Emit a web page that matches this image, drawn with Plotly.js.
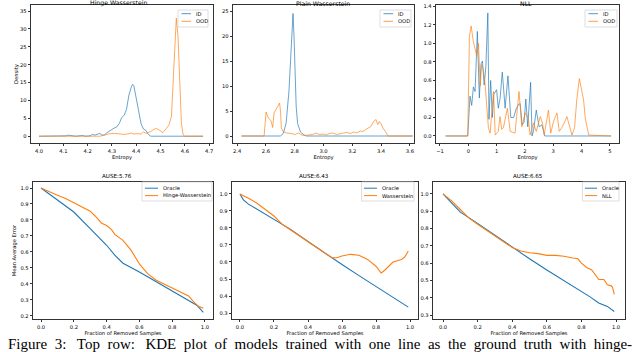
<!DOCTYPE html>
<html>
<head>
<meta charset="utf-8">
<script src="https://cdn.plot.ly/plotly-3.0.1.min.js"></script>
<style>
  html, body { margin: 0; padding: 0; background: white; }
  #chart { width: 640px; height: 352px; }
</style>
</head>
<body>
<div id="chart"></div>
<script>
// ---- top row: KDE of entropy, ID vs OOD ----
var hwIdX = [4.0, 4.08, 4.10, 4.11, 4.12, 4.13, 4.15, 4.18, 4.19, 4.21, 4.22, 4.23, 4.24, 4.25, 4.26, 4.27, 4.28, 4.29, 4.30, 4.31, 4.32, 4.33, 4.34, 4.35, 4.36, 4.37, 4.38, 4.385, 4.39, 4.40, 4.41, 4.42, 4.43, 4.44, 4.45, 4.46, 4.675];
var hwIdY = [0, 0, 0.2, 0.1, 0.3, 0.2, 0, 0.2, 0, 0.1, 0.5, 0.3, 0.6, 0.8, 0.3, 0.4, 1.0, 1.5, 2.0, 2.3, 2.6, 3.5, 5.2, 5.8, 7.5, 11.5, 13.8, 14.5, 14.2, 10.5, 6.5, 3.5, 2.0, 1.6, 0.5, 0, 0];
var hwOodX = [4.0, 4.25, 4.27, 4.29, 4.31, 4.33, 4.35, 4.37, 4.38, 4.39, 4.40, 4.42, 4.43, 4.44, 4.46, 4.47, 4.483, 4.497, 4.51, 4.524, 4.535, 4.545, 4.552, 4.559, 4.565, 4.572, 4.579, 4.586, 4.593, 4.60, 4.675];
var hwOodY = [0, 0, 0.3, 0.7, 0.8, 0.7, 0.5, 0.7, 0.9, 0.6, 0.7, 0.6, 1.2, 0.8, 1.3, 1.8, 2.2, 1.6, 1.0, 2.2, 3.2, 5.5, 14.8, 26, 33, 28, 15.7, 3.6, 0.4, 0, 0];

var pwIdX = [2.43, 2.70, 2.72, 2.74, 2.76, 2.77, 2.78, 2.788, 2.795, 2.80, 2.81, 2.82, 2.84, 2.86, 2.88, 3.449, 3.62];
var pwIdY = [0, 0, 0.5, 2.5, 9, 15, 21, 24.5, 20, 14, 6, 2.5, 0.8, 0.3, 0, 0, 0];
var pwOodX = [2.43, 2.587, 2.601, 2.616, 2.635, 2.647, 2.656, 2.671, 2.683, 2.695, 2.702, 2.707, 2.719, 2.743, 2.778, 2.80, 2.826, 2.85, 2.87, 2.922, 2.95, 2.97, 3.0, 3.018, 3.04, 3.066, 3.09, 3.114, 3.14, 3.162, 3.19, 3.21, 3.23, 3.257, 3.275, 3.293, 3.31, 3.329, 3.348, 3.365, 3.377, 3.389, 3.401, 3.413, 3.43, 3.449, 3.62];
var pwOodY = [0, 0, 4.8, 3.6, 3.1, 1.7, 4.6, 5.4, 6.2, 6.6, 4.6, 1.6, 0.9, 0.6, 0.5, 0.3, 0.6, 0.2, 0.1, 0.3, 0.6, 0.3, 0.4, 0.2, 0.5, 0.6, 0.3, 0.5, 0.6, 0.7, 0.5, 0.8, 0.6, 1.0, 0.9, 1.3, 1.6, 1.9, 2.9, 3.3, 2.3, 2.9, 2.4, 1.6, 0.9, 0, 0];

var nllIdX = [-0.8, -0.02, 0.06, 0.12, 0.18, 0.24, 0.32, 0.39, 0.45, 0.5, 0.56, 0.62, 0.69, 0.73, 0.79, 0.85, 0.9, 1.0, 1.06, 1.12, 1.2, 1.3, 1.4, 1.5, 1.6, 1.7, 1.77, 1.83, 1.9, 1.97, 2.03, 2.1, 2.2, 2.25, 2.3, 2.4, 2.5, 2.6, 2.7, 5.04];
var nllIdY = [0, 0, 0.43, 0.33, 0.53, 0.48, 1.13, 0.41, 0.78, 0.81, 0.55, 0.75, 1.33, 0.18, 0.6, 0.2, 0.45, 0.5, 0.3, 0.4, 0.69, 0.3, 0.65, 0.2, 0.2, 0.3, 0.34, 0.35, 0.12, 0.15, 0.4, 0.1, 0.58, 0, 0.05, 0.28, 0.1, 0.12, 0, 0];
var nllOodX = [-0.8, -0.02, 0.04, 0.1, 0.18, 0.24, 0.3, 0.36, 0.42, 0.47, 0.53, 0.59, 0.65, 0.71, 0.77, 0.83, 0.89, 0.95, 1.06, 1.12, 1.18, 1.24, 1.38, 1.48, 1.65, 1.79, 1.89, 2.01, 2.12, 2.18, 2.3, 2.4, 2.54, 2.62, 2.68, 2.83, 2.91, 3.01, 3.13, 3.21, 3.3, 3.4, 3.48, 3.56, 3.66, 3.75, 3.83, 3.92, 4.01, 4.07, 4.13, 4.19, 4.25, 5.04];
var nllOodY = [0, 0, 1.08, 1.19, 1.02, 0.93, 0.86, 1.0, 0.54, 0.77, 0.72, 0.57, 0.32, 0.09, 0.03, 0.23, 0.48, 0.01, 0.05, 0.21, 0.07, 0.09, 0.3, 0.05, 0.03, 0.48, 0.1, 0.25, 0.19, 0.01, 0.14, 0.05, 0.21, 0.14, 0.01, 0.28, 0.03, 0.16, 0.25, 0.05, 0.09, 0.15, 0.21, 0.12, 0.01, 0.09, 0.39, 0.62, 0.46, 0.39, 0.19, 0.09, 0.01, 0];

// ---- bottom row: sparsification curves ----
var hwOracleX = [0, 0.1, 0.2, 0.3, 0.4, 0.45, 0.5, 0.6, 0.7, 0.8, 0.9, 0.95, 0.99];
var hwOracleY = [1.0, 0.925, 0.85, 0.746, 0.642, 0.58, 0.53, 0.475, 0.415, 0.356, 0.3, 0.267, 0.222];
var hwHingeX = [0, 0.05, 0.1, 0.15, 0.2, 0.25, 0.3, 0.33, 0.37, 0.4, 0.43, 0.45, 0.5, 0.55, 0.6, 0.65, 0.68, 0.7, 0.75, 0.8, 0.85, 0.9, 0.93, 0.96, 0.99];
var hwHingeY = [1.0, 0.975, 0.955, 0.935, 0.91, 0.88, 0.855, 0.825, 0.78, 0.765, 0.74, 0.71, 0.673, 0.61, 0.525, 0.465, 0.44, 0.425, 0.4, 0.375, 0.35, 0.325, 0.29, 0.26, 0.248];

var pwOracleX = [0, 0.02, 0.05, 0.1, 0.2, 0.3, 0.4, 0.5, 0.55, 0.6, 0.7, 0.8, 0.85, 0.9, 0.95, 0.99];
var pwOracleY = [1.0, 0.965, 0.94, 0.91, 0.85, 0.79, 0.72, 0.65, 0.62, 0.585, 0.52, 0.455, 0.425, 0.39, 0.36, 0.335];
var pwWassX = [0, 0.05, 0.1, 0.15, 0.2, 0.25, 0.3, 0.4, 0.5, 0.54, 0.57, 0.6, 0.65, 0.7, 0.75, 0.8, 0.83, 0.85, 0.9, 0.95, 0.97, 0.99];
var pwWassY = [1.0, 0.975, 0.945, 0.91, 0.87, 0.82, 0.787, 0.717, 0.65, 0.625, 0.625, 0.635, 0.645, 0.64, 0.615, 0.575, 0.535, 0.55, 0.6, 0.615, 0.63, 0.665];

var nllOracleX = [0, 0.05, 0.1, 0.2, 0.3, 0.4, 0.5, 0.6, 0.7, 0.8, 0.85, 0.9, 0.95, 0.99];
var nllOracleY = [1.0, 0.945, 0.895, 0.83, 0.76, 0.69, 0.625, 0.56, 0.5, 0.44, 0.405, 0.37, 0.35, 0.32];
var nllCurveX = [0, 0.05, 0.1, 0.15, 0.2, 0.3, 0.4, 0.45, 0.5, 0.55, 0.6, 0.65, 0.7, 0.75, 0.78, 0.8, 0.83, 0.86, 0.88, 0.9, 0.93, 0.95, 0.97, 0.98, 0.99];
var nllCurveY = [1.0, 0.96, 0.91, 0.86, 0.825, 0.76, 0.69, 0.67, 0.66, 0.655, 0.645, 0.645, 0.64, 0.63, 0.625, 0.6, 0.575, 0.56, 0.53, 0.505, 0.505, 0.475, 0.47, 0.46, 0.42];

var topTitles = ['Hinge Wasserstein', 'Plain Wasserstein', 'NLL'];
var bottomTitles = ['AUSE:5.76', 'AUSE:6.43', 'AUSE:6.65'];
var topLegend = ['ID', 'OOD'];
var methodNames = ['Hinge-Wasserstein', 'Wasserstein', 'NLL'];
var caption = 'Figure 3: Top row: KDE plot of models trained with one line as the ground truth with hinge-';

var BLUE = '#1f77b4', ORANGE = '#ff7f0e';
var FONT = 'DejaVu Sans, sans-serif';

function line(x, y, name, color, n, opacity, width) {
  return {
    x: x, y: y, mode: 'lines', name: name,
    xaxis: 'x' + (n === 1 ? '' : n), yaxis: 'y' + (n === 1 ? '' : n),
    line: {color: color, width: width}, opacity: opacity,
    hoverinfo: 'skip', showlegend: false
  };
}

var traces = [
  line(hwIdX, hwIdY, 'ID', BLUE, 1, 0.75, 0.9),
  line(hwOodX, hwOodY, 'OOD', ORANGE, 1, 0.75, 0.9),
  line(pwIdX, pwIdY, 'ID', BLUE, 2, 0.75, 0.9),
  line(pwOodX, pwOodY, 'OOD', ORANGE, 2, 0.75, 0.9),
  line(nllIdX, nllIdY, 'ID', BLUE, 3, 0.75, 0.9),
  line(nllOodX, nllOodY, 'OOD', ORANGE, 3, 0.75, 0.9),
  line(hwOracleX, hwOracleY, 'Oracle', BLUE, 4, 1, 1.1),
  line(hwHingeX, hwHingeY, methodNames[0], ORANGE, 4, 1, 1.1),
  line(pwOracleX, pwOracleY, 'Oracle', BLUE, 5, 1, 1.1),
  line(pwWassX, pwWassY, methodNames[1], ORANGE, 5, 1, 1.1),
  line(nllOracleX, nllOracleY, 'Oracle', BLUE, 6, 1, 1.1),
  line(nllCurveX, nllCurveY, methodNames[2], ORANGE, 6, 1, 1.1)
];

function axis(domain, range, anchor, dtick, fmt, title, standoff) {
  return {
    domain: domain, range: range, anchor: anchor,
    dtick: dtick, tick0: 0, tickformat: fmt,
    showgrid: false, zeroline: false,
    showline: true, mirror: true, linecolor: '#000', linewidth: 0.8,
    ticks: 'outside', ticklen: 2.5, tickwidth: 0.8, tickcolor: '#000',
    tickfont: {family: FONT, size: 5.2, color: '#000'},
    title: {text: title || '', font: {family: FONT, size: 5.2, color: '#000'}, standoff: standoff || 0},
    automargin: false
  };
}

function px(x) { return x / 640; }
function py(y) { return 1 - y / 352; }

var topY = [py(143), py(5)], botY = [py(319), py(182)];

var annotations = [], shapes = [];

function text(str, x, y, size, xanchor, family) {
  annotations.push({text: str, x: px(x), y: py(y), xref: 'paper', yref: 'paper',
    xanchor: xanchor || 'center', yanchor: 'middle', showarrow: false,
    font: {family: family || FONT, size: size, color: '#000'}});
}

[118, 323, 526].forEach(function (cx, i) { text(topTitles[i], cx, 3, 6.2); });
[117, 314, 528].forEach(function (cx, i) { text(bottomTitles[i], cx, 175.5, 5.6); });

// matplotlib-style legends: box, short line samples, labels
var legends = [
  {box: [178, 208, 10, 27], seg: [181.5, 191], rows: [13.7, 21.3], tx: 194, labels: topLegend, op: 0.75},
  {box: [380, 411, 10, 27], seg: [383.5, 393], rows: [13.7, 21.3], tx: 396, labels: topLegend, op: 0.75},
  {box: [585, 617, 10, 27], seg: [588.5, 598], rows: [13.7, 21.3], tx: 601, labels: topLegend, op: 0.75},
  {box: [142, 212, 182, 201], seg: [145, 158], rows: [188.2, 195.6], tx: 161, labels: ['Oracle', methodNames[0]], op: 1},
  {box: [361.5, 414, 182, 201], seg: [364, 377], rows: [188.2, 195.6], tx: 380, labels: ['Oracle', methodNames[1]], op: 1},
  {box: [582.5, 619, 182, 201], seg: [585, 597], rows: [188.2, 195.6], tx: 600, labels: ['Oracle', methodNames[2]], op: 1}
];
legends.forEach(function (L) {
  shapes.push({type: 'rect', xref: 'paper', yref: 'paper',
    x0: px(L.box[0]), x1: px(L.box[1]), y0: py(L.box[2]), y1: py(L.box[3]),
    line: {color: '#d5d5d5', width: 0.8}, fillcolor: 'rgba(255,255,255,0.8)'});
  [BLUE, ORANGE].forEach(function (c, k) {
    shapes.push({type: 'line', xref: 'paper', yref: 'paper', opacity: L.op,
      x0: px(L.seg[0]), x1: px(L.seg[1]), y0: py(L.rows[k]), y1: py(L.rows[k]),
      line: {color: c, width: 1}});
    text(L.labels[k], L.tx, L.rows[k], 5.2, 'left');
  });
});

text(caption.replace(/ /g, '\u2002').replace(/:\u2002/g, ':\u2002\u2009'), 320, 344.3, 15, 'center',
  'Liberation Serif, Times New Roman, serif');

var layout = {
  width: 640, height: 352,
  margin: {l: 0, r: 0, t: 0, b: 0},
  paper_bgcolor: 'white', plot_bgcolor: 'white',
  showlegend: false,
  xaxis: axis([px(31), px(213)], [3.967, 4.716], 'y', 0.1, '.1f', 'Entropy'),
  yaxis: axis(topY, [-1.9, 36.7], 'x', 5, 'd', 'Density', 1),
  xaxis2: axis([px(233), px(414)], [2.371, 3.629], 'y2', 0.2, '.1f', 'Entropy'),
  yaxis2: axis(topY, [-1.4, 26.2], 'x2', 5, 'd'),
  xaxis3: axis([px(436), px(619)], [-1.14, 5.32], 'y3', 1, 'd', 'Entropy'),
  yaxis3: axis(topY, [-0.076, 1.416], 'x3', 0.2, '.1f'),
  xaxis4: axis([px(33), px(213)], [-0.049, 1.049], 'y4', 0.2, '.1f', 'Fraction of Removed Samples'),
  yaxis4: axis(botY, [0.181, 1.0375], 'x4', 0.1, '.1f', 'Mean Average Error', 3),
  xaxis5: axis([px(232), px(418)], [-0.047, 1.047], 'y5', 0.2, '.1f', 'Fraction of Removed Samples'),
  yaxis5: axis(botY, [0.265, 1.07], 'x5', 0.1, '.1f'),
  xaxis6: axis([px(433), px(625)], [-0.058, 1.052], 'y6', 0.2, '.1f', 'Fraction of Removed Samples'),
  yaxis6: axis(botY, [0.277, 1.069], 'x6', 0.1, '.1f'),
  shapes: shapes,
  annotations: annotations
};

Plotly.newPlot('chart', traces, layout, {staticPlot: true, displayModeBar: false});
</script>
</body>
</html>
